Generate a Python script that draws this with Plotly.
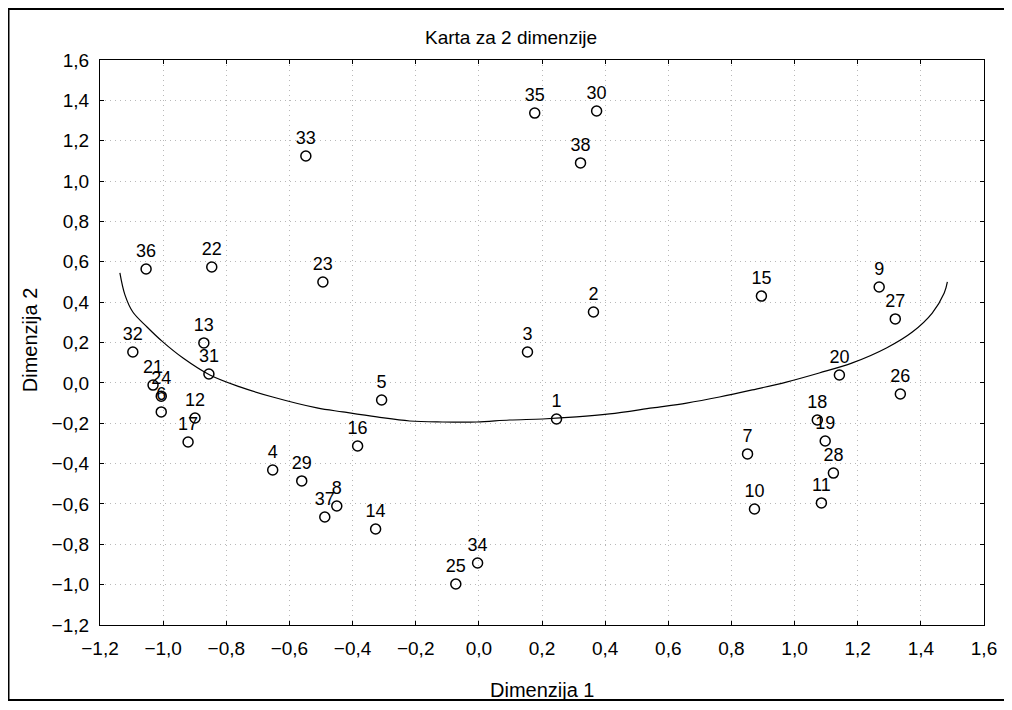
import plotly.graph_objects as go

# Point labels and coordinates
labels = ["1", "2", "3", "4", "5", "6", "7", "8", "9", "10",
          "11", "12", "13", "14", "15", "16", "17", "18", "19", "20",
          "21", "22", "23", "24", "25", "26", "27", "28", "29", "30",
          "31", "32", "33", "34", "35", "36", "37", "38"]
dim1 = [0.246, 0.363, 0.154, -0.653, -0.308, -1.006, 0.851, -0.450, 1.268, 0.873,
        1.085, -0.899, -0.871, -0.327, 0.895, -0.384, -0.921, 1.072, 1.097, 1.142,
        -1.032, -0.846, -0.494, -1.006, -0.073, 1.335, 1.319, 1.123, -0.561, 0.373,
        -0.855, -1.096, -0.548, -0.004, 0.177, -1.054, -0.488, 0.322]
dim2 = [-0.179, 0.351, 0.153, -0.432, -0.085, -0.144, -0.352, -0.610, 0.475, -0.625,
        -0.595, -0.174, 0.198, -0.724, 0.430, -0.313, -0.293, -0.184, -0.288, 0.039,
        -0.011, 0.574, 0.500, -0.066, -0.997, -0.055, 0.317, -0.447, -0.486, 1.347,
        0.044, 0.153, 1.124, -0.893, 1.337, 0.564, -0.665, 1.090]

# Fitted curve, points
curve_x = [-1.137, -1.121, -1.096, -1.051, -1.001, -0.937, -0.852, -0.757, -0.653, -0.513,
           -0.431, -0.323, -0.219, -0.115, -0.007, 0.097, 0.202, 0.309, 0.414, 0.550,
           0.658, 0.762, 0.866, 0.974, 1.078, 1.183, 1.291, 1.373, 1.436, 1.474, 1.484]
curve_y = [0.545, 0.436, 0.351, 0.277, 0.203, 0.123, 0.039, -0.020, -0.070, -0.124,
           -0.144, -0.169, -0.189, -0.194, -0.194, -0.184, -0.179, -0.169, -0.154, -0.124,
           -0.100, -0.070, -0.035, 0.004, 0.049, 0.099, 0.173, 0.252, 0.346, 0.445, 0.500]

tick_vals = [-1.2, -1.0, -0.8, -0.6, -0.4, -0.2, 0.0, 0.2, 0.4, 0.6, 0.8, 1.0, 1.2, 1.4, 1.6]

FONT = "Liberation Sans, Arial, sans-serif"

fig = go.Figure()
fig.add_trace(go.Scatter(
    x=curve_x, y=curve_y, mode="lines", line=dict(color="black", width=1.2, shape="spline"),
    hoverinfo="skip", showlegend=False))
fig.add_trace(go.Scatter(
    x=dim1, y=dim2, mode="markers+text", text=labels, textposition="top center",
    textfont=dict(family=FONT, size=18, color="black"),
    marker=dict(symbol="circle-open", size=10, color="black", line=dict(width=1.5)),
    showlegend=False))

axis_common = dict(
    range=[-1.2, 1.6], tickvals=tick_vals, tickformat=".1f",
    showgrid=True, gridcolor="#b8b8b8", griddash="1px,4px", gridwidth=1,
    zeroline=False, showline=True, linecolor="black", linewidth=1.2, mirror="ticks",
    ticks="inside", ticklen=4, tickcolor="black", ticklabelstandoff=6,
    tickfont=dict(family=FONT, size=19, color="black"),
)

fig.update_layout(
    width=1012, height=710,
    margin=dict(l=92, r=36, t=52, b=93, autoexpand=False),
    paper_bgcolor="white", plot_bgcolor="white",
    separators=", ",
    xaxis=dict(**axis_common),
    yaxis=dict(**axis_common),
    annotations=[
        dict(text="Karta za 2 dimenzije", xref="paper", yref="paper", x=0.465, y=1.039,
             xanchor="center", yanchor="middle", showarrow=False,
             font=dict(family=FONT, size=19, color="black")),
        dict(text="Dimenzija 1", xref="paper", yref="paper", x=0.5, y=-0.115,
             xanchor="center", yanchor="middle", showarrow=False,
             font=dict(family=FONT, size=20, color="black")),
        dict(text="Dimenzija 2", xref="paper", yref="paper", x=-0.0792, y=0.504,
             xanchor="center", yanchor="middle", showarrow=False, textangle=-90,
             font=dict(family=FONT, size=20, color="black")),
    ],
    shapes=[dict(type="rect", xref="paper", yref="paper",
                 x0=-0.1035, x1=1.0238, y0=-0.1327, y1=1.0903,
                 line=dict(color="black", width=2), fillcolor="rgba(0,0,0,0)", layer="below")],
)

fig.write_html("out.html")
